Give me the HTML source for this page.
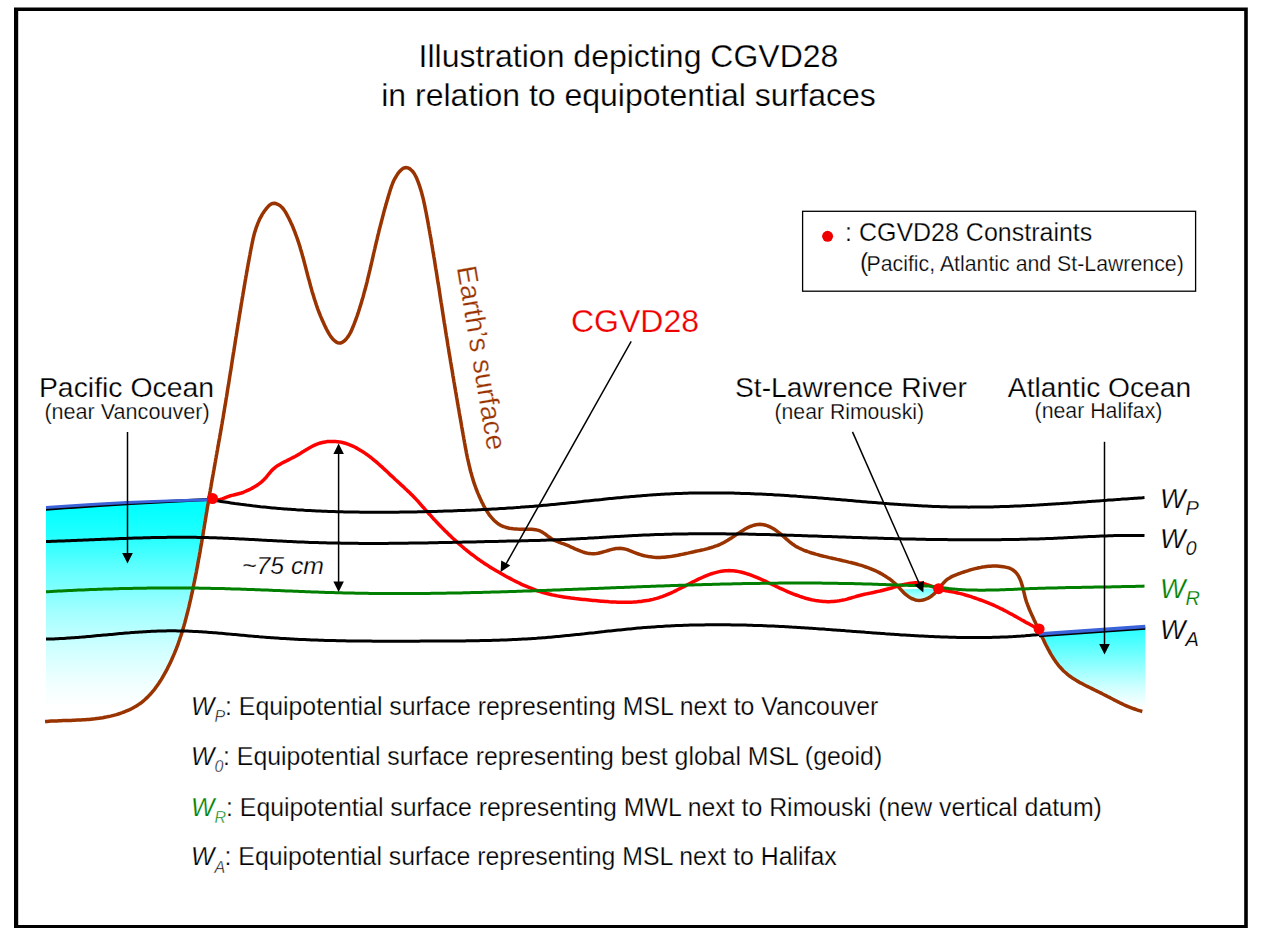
<!DOCTYPE html>
<html><head><meta charset="utf-8"><style>
html,body{margin:0;padding:0;background:#fff;width:1264px;height:940px;overflow:hidden}
svg{display:block} text{stroke:#fff;stroke-width:0.25px}
</style></head><body>
<svg width="1264" height="940" viewBox="0 0 1264 940">
<defs><linearGradient id="gw" gradientUnits="userSpaceOnUse" x1="0" y1="506" x2="0" y2="706"><stop offset="0" stop-color="#00ffff"/><stop offset="0.15" stop-color="#22ffff"/><stop offset="0.3" stop-color="#5cffff"/><stop offset="0.52" stop-color="#a0ffff"/><stop offset="0.695" stop-color="#ccffff"/><stop offset="0.87" stop-color="#eeffff"/><stop offset="1" stop-color="#ffffff"/></linearGradient><linearGradient id="gw2" gradientUnits="userSpaceOnUse" x1="0" y1="626" x2="0" y2="708"><stop offset="0" stop-color="#20ffff"/><stop offset="0.45" stop-color="#88ffff"/><stop offset="0.75" stop-color="#d0ffff"/><stop offset="1" stop-color="#ffffff"/></linearGradient></defs>
<path d="M14,7.4 H1247.8 V928 H14 Z M18.2,11 V925 H1244.2 V11 Z" fill="#000" fill-rule="evenodd"/>
<text x="628.5" y="66.7" text-anchor="middle" style="font-family:'Liberation Sans',sans-serif;font-size:32px">Illustration depicting CGVD28</text>
<text x="628.5" y="105.7" text-anchor="middle" style="font-family:'Liberation Sans',sans-serif;font-size:32px">in relation to equipotential surfaces</text>
<path d="M46,507.6 Q127,501.5 212,499.5 L208.5,500.9 L208.2,502.9 L207.9,504.9 L207.5,506.8 L207.2,508.8 L206.9,510.8 L206.6,512.7 L206.2,514.7 L205.9,516.7 L205.6,518.7 L205.3,520.6 L204.9,522.6 L204.6,524.6 L204.3,526.5 L204.0,528.5 L203.6,530.5 L203.3,532.5 L203.0,534.4 L202.7,536.4 L202.3,538.4 L202.0,540.3 L201.7,542.3 L201.3,544.3 L201.0,546.2 L200.6,548.2 L200.3,550.2 L200.0,552.1 L199.6,554.1 L199.3,556.1 L198.9,558.0 L198.5,560.0 L198.2,561.9 L197.8,563.9 L197.5,565.9 L197.1,567.8 L196.7,569.8 L196.4,571.8 L196.0,573.7 L195.6,575.7 L195.2,577.6 L194.8,579.6 L194.4,581.6 L194.0,583.5 L193.6,585.5 L193.2,587.4 L192.8,589.4 L192.4,591.3 L192.0,593.3 L191.5,595.2 L191.1,597.2 L190.7,599.1 L190.2,601.1 L189.8,603.0 L189.3,605.0 L188.9,606.9 L188.4,608.9 L187.9,610.8 L187.4,612.8 L186.9,614.7 L186.4,616.6 L185.9,618.6 L185.4,620.5 L184.9,622.4 L184.3,624.4 L183.8,626.3 L183.2,628.2 L182.7,630.1 L182.1,632.0 L181.5,633.9 L180.9,635.8 L180.2,637.7 L179.6,639.6 L178.9,641.5 L178.3,643.4 L177.6,645.3 L176.9,647.2 L176.2,649.0 L175.4,650.9 L174.7,652.7 L173.9,654.6 L173.1,656.4 L172.3,658.2 L171.5,660.1 L170.7,661.9 L169.8,663.7 L168.9,665.5 L168.0,667.3 L167.1,669.1 L166.2,670.8 L165.2,672.6 L164.2,674.4 L163.2,676.1 L162.2,677.9 L161.2,679.6 L160.1,681.3 L159.0,683.0 L157.8,684.7 L156.7,686.3 L155.5,687.9 L154.3,689.6 L153.0,691.1 L151.7,692.7 L150.4,694.2 L149.0,695.6 L147.6,697.1 L146.2,698.4 L144.7,699.8 L143.2,701.1 L141.7,702.3 L140.1,703.5 L138.4,704.6 L136.8,705.7 L135.0,706.8 L133.3,707.7 L131.5,708.7 L129.7,709.6 L127.9,710.4 L126.0,711.2 L124.1,712.0 L122.2,712.7 L120.3,713.3 L118.4,714.0 L116.5,714.6 L114.5,715.1 L112.6,715.6 L110.6,716.1 L108.7,716.5 L106.7,716.9 L104.8,717.3 L102.8,717.7 L100.8,718.0 L98.9,718.3 L96.9,718.5 L94.9,718.8 L92.9,719.0 L90.9,719.2 L88.9,719.4 L86.9,719.5 L84.9,719.7 L82.9,719.8 L80.9,719.9 L78.9,720.0 L76.9,720.1 L74.9,720.2 L72.9,720.3 L70.9,720.4 L68.9,720.5 L66.9,720.5 L64.9,720.6 L62.9,720.6 L60.9,720.7 L58.9,720.8 L56.9,720.9 L54.9,720.9 L52.9,721.0 L51.0,721.1 L49.0,721.2 L47.0,721.4 L45.0,721.5 L46,721.5 Z" fill="url(#gw)"/>
<path d="M1039.5,634.3 L1145.3,626.7 L1145.3,712 L1142.3,711.5 L1140.3,710.9 L1138.3,710.3 L1136.4,709.7 L1134.5,709.0 L1132.6,708.3 L1130.7,707.6 L1128.9,706.9 L1127.0,706.1 L1125.2,705.3 L1123.4,704.5 L1121.7,703.6 L1119.9,702.8 L1118.1,701.9 L1116.4,701.0 L1114.6,700.1 L1112.9,699.2 L1111.1,698.3 L1109.4,697.4 L1107.6,696.5 L1105.9,695.6 L1104.1,694.7 L1102.3,693.8 L1100.6,692.9 L1098.7,692.0 L1096.9,691.1 L1095.1,690.2 L1093.3,689.3 L1091.4,688.4 L1089.6,687.5 L1087.8,686.6 L1085.9,685.7 L1084.1,684.8 L1082.3,683.8 L1080.5,682.9 L1078.8,681.9 L1077.0,680.9 L1075.3,679.8 L1073.6,678.8 L1071.9,677.7 L1070.3,676.5 L1068.7,675.3 L1067.2,674.1 L1065.7,672.8 L1064.2,671.5 L1062.8,670.2 L1061.5,668.7 L1060.2,667.3 L1058.9,665.8 L1057.7,664.3 L1056.5,662.7 L1055.3,661.1 L1054.2,659.4 L1053.1,657.8 L1052.1,656.1 L1051.0,654.4 L1050.0,652.6 L1049.1,650.9 L1048.1,649.1 L1047.2,647.3 L1046.2,645.5 L1045.3,643.7 L1044.4,641.9 L1043.6,640.0 L1042.7,638.2 L1041.8,636.4 L1041.0,634.5 L1040.1,632.7 Z" fill="url(#gw2)"/>
<defs><linearGradient id="gp" gradientUnits="userSpaceOnUse" x1="0" y1="584" x2="0" y2="600"><stop offset="0" stop-color="#40ffff"/><stop offset="1" stop-color="#d0ffff"/></linearGradient></defs>
<path d="M900.8,589.6 L902.2,591.0 L903.6,592.5 L905.0,593.9 L906.6,595.2 L908.2,596.4 L909.9,597.5 L911.6,598.5 L913.4,599.2 L915.3,599.9 L917.2,600.2 L919.1,600.4 L921.1,600.3 L923.1,600.0 L925.0,599.4 L926.9,598.7 L928.8,597.8 L930.5,596.7 L932.2,595.5 L933.8,594.2 L935.3,592.8 L936.7,591.3 L937.9,589.8 L939.2,588.2 Z" fill="url(#gp)"/>
<path d="M45.0,721.5 L47.0,721.4 L49.0,721.2 L51.0,721.1 L52.9,721.0 L54.9,720.9 L56.9,720.9 L58.9,720.8 L60.9,720.7 L62.9,720.6 L64.9,720.6 L66.9,720.5 L68.9,720.5 L70.9,720.4 L72.9,720.3 L74.9,720.2 L76.9,720.1 L78.9,720.0 L80.9,719.9 L82.9,719.8 L84.9,719.7 L86.9,719.5 L88.9,719.4 L90.9,719.2 L92.9,719.0 L94.9,718.8 L96.9,718.5 L98.9,718.3 L100.8,718.0 L102.8,717.7 L104.8,717.3 L106.7,716.9 L108.7,716.5 L110.6,716.1 L112.6,715.6 L114.5,715.1 L116.5,714.6 L118.4,714.0 L120.3,713.3 L122.2,712.7 L124.1,712.0 L126.0,711.2 L127.9,710.4 L129.7,709.6 L131.5,708.7 L133.3,707.7 L135.0,706.8 L136.8,705.7 L138.4,704.6 L140.1,703.5 L141.7,702.3 L143.2,701.1 L144.7,699.8 L146.2,698.4 L147.6,697.1 L149.0,695.6 L150.4,694.2 L151.7,692.7 L153.0,691.1 L154.3,689.6 L155.5,687.9 L156.7,686.3 L157.8,684.7 L159.0,683.0 L160.1,681.3 L161.2,679.6 L162.2,677.9 L163.2,676.1 L164.2,674.4 L165.2,672.6 L166.2,670.8 L167.1,669.1 L168.0,667.3 L168.9,665.5 L169.8,663.7 L170.7,661.9 L171.5,660.1 L172.3,658.2 L173.1,656.4 L173.9,654.6 L174.7,652.7 L175.4,650.9 L176.2,649.0 L176.9,647.2 L177.6,645.3 L178.3,643.4 L178.9,641.5 L179.6,639.6 L180.2,637.7 L180.9,635.8 L181.5,633.9 L182.1,632.0 L182.7,630.1 L183.2,628.2 L183.8,626.3 L184.3,624.4 L184.9,622.4 L185.4,620.5 L185.9,618.6 L186.4,616.6 L186.9,614.7 L187.4,612.8 L187.9,610.8 L188.4,608.9 L188.9,606.9 L189.3,605.0 L189.8,603.0 L190.2,601.1 L190.7,599.1 L191.1,597.2 L191.5,595.2 L192.0,593.3 L192.4,591.3 L192.8,589.4 L193.2,587.4 L193.6,585.5 L194.0,583.5 L194.4,581.6 L194.8,579.6 L195.2,577.6 L195.6,575.7 L196.0,573.7 L196.4,571.8 L196.7,569.8 L197.1,567.8 L197.5,565.9 L197.8,563.9 L198.2,561.9 L198.5,560.0 L198.9,558.0 L199.3,556.1 L199.6,554.1 L200.0,552.1 L200.3,550.2 L200.6,548.2 L201.0,546.2 L201.3,544.3 L201.7,542.3 L202.0,540.3 L202.3,538.4 L202.7,536.4 L203.0,534.4 L203.3,532.5 L203.6,530.5 L204.0,528.5 L204.3,526.5 L204.6,524.6 L204.9,522.6 L205.3,520.6 L205.6,518.7 L205.9,516.7 L206.2,514.7 L206.6,512.7 L206.9,510.8 L207.2,508.8 L207.5,506.8 L207.9,504.9 L208.2,502.9 L208.5,500.9 L208.9,498.9 L209.2,497.0 L209.5,495.0 L209.8,493.0 L210.2,491.0 L210.5,489.1 L210.9,487.1 L211.2,485.1 L211.5,483.2 L211.9,481.2 L212.2,479.2 L212.6,477.2 L212.9,475.3 L213.3,473.3 L213.6,471.3 L214.0,469.3 L214.3,467.4 L214.7,465.4 L215.0,463.4 L215.4,461.5 L215.7,459.5 L216.1,457.5 L216.4,455.5 L216.8,453.6 L217.1,451.6 L217.5,449.6 L217.8,447.7 L218.2,445.7 L218.5,443.7 L218.9,441.7 L219.2,439.8 L219.6,437.8 L219.9,435.8 L220.3,433.9 L220.6,431.9 L221.0,429.9 L221.3,428.0 L221.6,426.0 L222.0,424.0 L222.3,422.1 L222.6,420.1 L223.0,418.1 L223.3,416.2 L223.6,414.2 L224.0,412.2 L224.3,410.3 L224.6,408.3 L224.9,406.3 L225.3,404.4 L225.6,402.4 L225.9,400.4 L226.2,398.5 L226.6,396.5 L226.9,394.5 L227.2,392.6 L227.5,390.6 L227.8,388.6 L228.1,386.7 L228.5,384.7 L228.8,382.7 L229.1,380.8 L229.4,378.8 L229.7,376.8 L230.0,374.9 L230.3,372.9 L230.7,370.9 L231.0,369.0 L231.3,367.0 L231.6,365.0 L231.9,363.1 L232.2,361.1 L232.5,359.1 L232.8,357.2 L233.1,355.2 L233.4,353.2 L233.8,351.3 L234.1,349.3 L234.4,347.3 L234.7,345.4 L235.0,343.4 L235.3,341.4 L235.6,339.5 L235.9,337.5 L236.3,335.5 L236.6,333.6 L236.9,331.6 L237.2,329.6 L237.5,327.7 L237.8,325.7 L238.1,323.7 L238.5,321.8 L238.8,319.8 L239.1,317.8 L239.4,315.8 L239.7,313.9 L240.1,311.9 L240.4,309.9 L240.7,308.0 L241.0,306.0 L241.3,304.0 L241.7,302.0 L242.0,300.1 L242.3,298.1 L242.7,296.1 L243.0,294.1 L243.3,292.2 L243.7,290.2 L244.0,288.2 L244.3,286.2 L244.7,284.2 L245.0,282.3 L245.3,280.3 L245.7,278.3 L246.0,276.3 L246.4,274.3 L246.7,272.4 L247.1,270.4 L247.4,268.4 L247.8,266.4 L248.1,264.4 L248.5,262.4 L248.9,260.4 L249.2,258.5 L249.6,256.5 L250.0,254.5 L250.3,252.5 L250.7,250.5 L251.1,248.5 L251.5,246.5 L251.9,244.5 L252.3,242.6 L252.7,240.6 L253.1,238.6 L253.6,236.7 L254.1,234.7 L254.6,232.8 L255.2,230.9 L255.8,229.0 L256.4,227.1 L257.1,225.3 L257.8,223.4 L258.6,221.6 L259.4,219.8 L260.2,218.1 L261.2,216.3 L262.1,214.6 L263.2,212.9 L264.3,211.3 L265.5,209.7 L266.7,208.1 L268.1,206.6 L269.5,205.2 L271.0,204.1 L272.7,203.4 L274.5,203.3 L276.5,203.8 L278.4,204.6 L280.2,205.8 L281.8,207.2 L283.2,208.7 L284.4,210.4 L285.5,212.1 L286.5,213.9 L287.4,215.7 L288.4,217.5 L289.3,219.3 L290.2,221.1 L291.0,222.9 L291.9,224.8 L292.7,226.6 L293.4,228.5 L294.2,230.3 L294.9,232.2 L295.6,234.1 L296.3,236.0 L297.0,237.8 L297.6,239.7 L298.3,241.6 L298.9,243.5 L299.5,245.4 L300.1,247.3 L300.6,249.2 L301.2,251.1 L301.8,253.1 L302.3,255.0 L302.8,256.9 L303.4,258.8 L303.9,260.7 L304.4,262.7 L304.9,264.6 L305.4,266.5 L305.9,268.4 L306.4,270.4 L306.9,272.3 L307.4,274.2 L307.9,276.1 L308.4,278.1 L309.0,280.0 L309.5,281.9 L310.0,283.8 L310.5,285.7 L311.1,287.7 L311.6,289.6 L312.1,291.5 L312.7,293.4 L313.3,295.3 L313.9,297.2 L314.4,299.1 L315.1,301.0 L315.7,302.9 L316.3,304.8 L317.0,306.7 L317.6,308.6 L318.3,310.4 L319.0,312.3 L319.8,314.2 L320.5,316.1 L321.3,317.9 L322.1,319.8 L322.9,321.6 L323.8,323.5 L324.6,325.3 L325.5,327.1 L326.4,329.0 L327.4,330.8 L328.4,332.6 L329.4,334.4 L330.5,336.1 L331.7,337.7 L333.0,339.3 L334.5,340.7 L336.0,341.9 L337.6,342.8 L339.3,343.1 L341.0,342.9 L342.6,342.2 L344.2,341.0 L345.7,339.6 L347.0,338.0 L348.2,336.4 L349.3,334.6 L350.3,332.9 L351.2,331.1 L352.0,329.2 L352.8,327.3 L353.6,325.4 L354.3,323.6 L355.0,321.7 L355.7,319.8 L356.4,317.9 L357.1,316.0 L357.7,314.1 L358.4,312.1 L359.0,310.2 L359.6,308.3 L360.2,306.4 L360.8,304.5 L361.4,302.6 L361.9,300.6 L362.5,298.7 L363.1,296.8 L363.6,294.9 L364.1,292.9 L364.6,291.0 L365.2,289.1 L365.7,287.1 L366.2,285.2 L366.7,283.3 L367.2,281.3 L367.6,279.4 L368.1,277.4 L368.6,275.5 L369.0,273.6 L369.5,271.6 L370.0,269.7 L370.4,267.7 L370.9,265.8 L371.3,263.9 L371.8,261.9 L372.2,260.0 L372.7,258.0 L373.1,256.1 L373.5,254.2 L374.0,252.2 L374.4,250.3 L374.9,248.3 L375.3,246.4 L375.8,244.5 L376.2,242.5 L376.7,240.6 L377.2,238.7 L377.6,236.7 L378.1,234.8 L378.6,232.9 L379.0,230.9 L379.5,229.0 L380.0,227.1 L380.5,225.1 L381.0,223.2 L381.5,221.3 L382.0,219.4 L382.5,217.4 L383.0,215.5 L383.5,213.6 L384.0,211.6 L384.5,209.7 L385.1,207.8 L385.6,205.8 L386.2,203.9 L386.7,202.0 L387.3,200.0 L387.9,198.1 L388.4,196.1 L389.0,194.2 L389.6,192.2 L390.2,190.3 L390.8,188.4 L391.5,186.4 L392.2,184.5 L392.9,182.7 L393.7,180.8 L394.6,179.0 L395.6,177.3 L396.6,175.6 L397.7,173.9 L398.9,172.3 L400.3,170.8 L401.7,169.4 L403.3,168.3 L404.9,167.7 L406.6,167.6 L408.3,168.0 L409.9,168.9 L411.4,170.2 L412.8,171.6 L414.0,173.2 L415.0,175.0 L416.0,176.8 L416.9,178.8 L417.7,180.8 L418.4,182.7 L419.1,184.7 L419.8,186.7 L420.4,188.6 L421.0,190.6 L421.6,192.6 L422.1,194.5 L422.6,196.5 L423.1,198.4 L423.6,200.4 L424.0,202.3 L424.4,204.2 L424.8,206.2 L425.2,208.1 L425.6,210.1 L426.0,212.0 L426.4,214.0 L426.7,215.9 L427.1,217.8 L427.5,219.8 L427.8,221.7 L428.2,223.7 L428.5,225.6 L428.9,227.6 L429.2,229.5 L429.6,231.5 L429.9,233.5 L430.3,235.4 L430.6,237.4 L431.0,239.3 L431.3,241.3 L431.6,243.3 L432.0,245.2 L432.3,247.2 L432.6,249.1 L432.9,251.1 L433.3,253.1 L433.6,255.0 L433.9,257.0 L434.3,259.0 L434.6,261.0 L434.9,262.9 L435.2,264.9 L435.5,266.9 L435.8,268.8 L436.2,270.8 L436.5,272.8 L436.8,274.8 L437.1,276.7 L437.4,278.7 L437.7,280.7 L438.0,282.7 L438.4,284.7 L438.7,286.6 L439.0,288.6 L439.3,290.6 L439.6,292.6 L439.9,294.6 L440.2,296.5 L440.5,298.5 L440.8,300.5 L441.1,302.5 L441.5,304.5 L441.8,306.4 L442.1,308.4 L442.4,310.4 L442.7,312.4 L443.0,314.4 L443.3,316.3 L443.6,318.3 L443.9,320.3 L444.2,322.3 L444.6,324.3 L444.9,326.2 L445.2,328.2 L445.5,330.2 L445.8,332.2 L446.1,334.1 L446.4,336.1 L446.8,338.1 L447.1,340.1 L447.4,342.0 L447.7,344.0 L448.0,346.0 L448.4,348.0 L448.7,349.9 L449.0,351.9 L449.3,353.9 L449.7,355.9 L450.0,357.8 L450.3,359.8 L450.6,361.8 L451.0,363.8 L451.3,365.7 L451.6,367.7 L452.0,369.7 L452.3,371.6 L452.6,373.6 L452.9,375.6 L453.3,377.6 L453.6,379.5 L453.9,381.5 L454.3,383.5 L454.6,385.4 L454.9,387.4 L455.3,389.4 L455.6,391.3 L456.0,393.3 L456.3,395.3 L456.6,397.3 L457.0,399.2 L457.3,401.2 L457.6,403.2 L458.0,405.1 L458.3,407.1 L458.7,409.1 L459.0,411.0 L459.3,413.0 L459.7,415.0 L460.0,416.9 L460.4,418.9 L460.7,420.9 L461.1,422.8 L461.4,424.8 L461.7,426.8 L462.1,428.7 L462.4,430.7 L462.8,432.7 L463.1,434.6 L463.5,436.6 L463.8,438.5 L464.2,440.5 L464.5,442.5 L464.9,444.4 L465.2,446.4 L465.6,448.4 L466.0,450.3 L466.3,452.3 L466.7,454.2 L467.1,456.2 L467.5,458.1 L468.0,460.1 L468.4,462.0 L468.8,464.0 L469.3,465.9 L469.8,467.8 L470.2,469.8 L470.7,471.7 L471.3,473.6 L471.8,475.5 L472.4,477.5 L472.9,479.4 L473.5,481.3 L474.1,483.2 L474.8,485.1 L475.5,487.0 L476.1,488.8 L476.9,490.7 L477.6,492.6 L478.4,494.4 L479.2,496.3 L480.0,498.1 L480.9,500.0 L481.7,501.8 L482.7,503.6 L483.6,505.5 L484.6,507.3 L485.6,509.1 L486.7,510.8 L487.8,512.6 L488.9,514.2 L490.1,515.9 L491.4,517.4 L492.7,518.9 L494.0,520.3 L495.5,521.7 L497.0,522.9 L498.5,524.0 L500.1,525.0 L501.8,525.9 L503.6,526.6 L505.5,527.2 L507.4,527.7 L509.3,528.2 L511.3,528.5 L513.3,528.8 L515.4,528.9 L517.4,529.1 L519.5,529.2 L521.6,529.2 L523.7,529.2 L525.7,529.2 L527.8,529.2 L529.8,529.3 L531.8,529.3 L533.7,529.5 L535.6,529.7 L537.5,530.1 L539.3,530.7 L541.1,531.5 L542.8,532.5 L544.5,533.6 L546.2,534.8 L547.8,536.1 L549.5,537.3 L551.2,538.5 L552.9,539.5 L554.7,540.4 L556.4,541.2 L558.2,541.9 L560.1,542.6 L561.9,543.3 L563.8,543.9 L565.6,544.6 L567.5,545.4 L569.4,546.2 L571.2,547.1 L573.1,547.9 L575.0,548.8 L576.9,549.6 L578.8,550.4 L580.7,551.2 L582.6,551.9 L584.5,552.5 L586.4,553.0 L588.3,553.4 L590.3,553.6 L592.2,553.7 L594.2,553.7 L596.2,553.5 L598.2,553.2 L600.1,552.7 L602.1,552.2 L604.1,551.6 L606.1,551.1 L608.1,550.5 L610.1,549.9 L612.0,549.4 L614.0,548.9 L615.9,548.6 L617.9,548.4 L619.8,548.3 L621.7,548.4 L623.6,548.7 L625.4,549.1 L627.3,549.7 L629.1,550.4 L631.0,551.1 L632.8,551.9 L634.7,552.6 L636.6,553.3 L638.5,554.0 L640.4,554.6 L642.4,555.2 L644.3,555.7 L646.3,556.1 L648.3,556.5 L650.3,556.8 L652.2,557.1 L654.2,557.3 L656.2,557.4 L658.2,557.4 L660.2,557.4 L662.2,557.3 L664.1,557.2 L666.1,557.0 L668.1,556.8 L670.1,556.6 L672.0,556.3 L674.0,555.9 L676.0,555.6 L678.0,555.2 L680.0,554.8 L681.9,554.4 L683.9,554.0 L685.9,553.5 L687.9,553.1 L689.9,552.6 L691.9,552.2 L693.9,551.8 L695.9,551.3 L697.9,550.9 L699.8,550.5 L701.8,550.0 L703.8,549.6 L705.8,549.1 L707.7,548.6 L709.6,548.0 L711.5,547.5 L713.4,546.9 L715.3,546.2 L717.2,545.6 L719.0,544.8 L720.8,544.0 L722.5,543.2 L724.3,542.3 L726.0,541.3 L727.7,540.3 L729.3,539.3 L731.0,538.2 L732.7,537.1 L734.3,536.0 L736.0,534.8 L737.7,533.7 L739.4,532.6 L741.1,531.5 L742.9,530.4 L744.7,529.3 L746.5,528.3 L748.3,527.4 L750.2,526.5 L752.1,525.8 L754.0,525.2 L756.0,524.7 L757.9,524.4 L759.8,524.3 L761.8,524.4 L763.7,524.7 L765.6,525.2 L767.5,525.8 L769.4,526.6 L771.2,527.5 L773.0,528.5 L774.8,529.6 L776.5,530.8 L778.2,532.1 L779.8,533.3 L781.4,534.6 L782.9,536.0 L784.4,537.3 L785.9,538.6 L787.4,539.9 L788.9,541.2 L790.4,542.5 L792.0,543.7 L793.6,544.8 L795.2,545.9 L796.9,546.9 L798.6,547.8 L800.4,548.7 L802.3,549.5 L804.1,550.3 L806.0,551.0 L807.9,551.7 L809.8,552.3 L811.7,553.0 L813.7,553.5 L815.6,554.1 L817.6,554.6 L819.6,555.2 L821.5,555.7 L823.5,556.2 L825.4,556.6 L827.4,557.1 L829.3,557.6 L831.3,558.0 L833.2,558.5 L835.2,558.9 L837.1,559.4 L839.1,559.8 L841.0,560.2 L843.0,560.7 L844.9,561.1 L846.8,561.6 L848.8,562.1 L850.7,562.5 L852.6,563.0 L854.6,563.5 L856.5,564.0 L858.4,564.6 L860.3,565.1 L862.2,565.7 L864.1,566.3 L865.9,567.0 L867.8,567.6 L869.7,568.3 L871.5,569.1 L873.4,569.9 L875.2,570.7 L877.0,571.5 L878.8,572.4 L880.6,573.4 L882.3,574.3 L884.1,575.4 L885.8,576.5 L887.5,577.6 L889.2,578.7 L890.8,579.9 L892.4,581.2 L893.9,582.5 L895.4,583.8 L896.8,585.2 L898.2,586.6 L899.5,588.1 L900.8,589.6 L902.2,591.0 L903.6,592.5 L905.0,593.9 L906.6,595.2 L908.2,596.4 L909.9,597.5 L911.6,598.5 L913.4,599.2 L915.3,599.9 L917.2,600.2 L919.1,600.4 L921.1,600.3 L923.1,600.0 L925.0,599.4 L926.9,598.7 L928.8,597.8 L930.5,596.7 L932.2,595.5 L933.8,594.2 L935.3,592.8 L936.7,591.3 L937.9,589.8 L939.2,588.2 L940.4,586.7 L941.6,585.1 L942.9,583.6 L944.2,582.2 L945.6,580.8 L947.0,579.5 L948.7,578.4 L950.4,577.4 L952.2,576.4 L954.1,575.6 L956.0,574.8 L958.0,574.0 L959.9,573.3 L961.9,572.6 L963.8,572.0 L965.7,571.4 L967.6,570.8 L969.5,570.2 L971.3,569.6 L973.2,569.1 L975.1,568.6 L976.9,568.2 L978.8,567.7 L980.7,567.4 L982.6,567.0 L984.6,566.8 L986.5,566.5 L988.5,566.3 L990.5,566.2 L992.6,566.1 L994.7,566.1 L996.8,566.1 L999.0,566.2 L1001.2,566.4 L1003.4,566.7 L1005.5,567.1 L1007.6,567.6 L1009.5,568.2 L1011.3,569.0 L1013.0,570.0 L1014.4,571.1 L1015.7,572.3 L1016.9,573.7 L1018.0,575.2 L1018.9,576.9 L1019.8,578.6 L1020.5,580.4 L1021.2,582.2 L1021.8,584.2 L1022.4,586.1 L1022.9,588.1 L1023.4,590.2 L1023.9,592.2 L1024.4,594.2 L1024.9,596.3 L1025.4,598.3 L1026.0,600.2 L1026.6,602.1 L1027.3,604.0 L1028.0,605.9 L1028.7,607.7 L1029.4,609.5 L1030.2,611.3 L1031.0,613.1 L1031.8,614.9 L1032.6,616.6 L1033.4,618.4 L1034.2,620.1 L1035.1,621.9 L1035.9,623.7 L1036.7,625.5 L1037.6,627.3 L1038.4,629.1 L1039.3,630.9 L1040.1,632.7 L1041.0,634.5 L1041.8,636.4 L1042.7,638.2 L1043.6,640.0 L1044.4,641.9 L1045.3,643.7 L1046.2,645.5 L1047.2,647.3 L1048.1,649.1 L1049.1,650.9 L1050.0,652.6 L1051.0,654.4 L1052.1,656.1 L1053.1,657.8 L1054.2,659.4 L1055.3,661.1 L1056.5,662.7 L1057.7,664.3 L1058.9,665.8 L1060.2,667.3 L1061.5,668.7 L1062.8,670.2 L1064.2,671.5 L1065.7,672.8 L1067.2,674.1 L1068.7,675.3 L1070.3,676.5 L1071.9,677.7 L1073.6,678.8 L1075.3,679.8 L1077.0,680.9 L1078.8,681.9 L1080.5,682.9 L1082.3,683.8 L1084.1,684.8 L1085.9,685.7 L1087.8,686.6 L1089.6,687.5 L1091.4,688.4 L1093.3,689.3 L1095.1,690.2 L1096.9,691.1 L1098.7,692.0 L1100.6,692.9 L1102.3,693.8 L1104.1,694.7 L1105.9,695.6 L1107.6,696.5 L1109.4,697.4 L1111.1,698.3 L1112.9,699.2 L1114.6,700.1 L1116.4,701.0 L1118.1,701.9 L1119.9,702.8 L1121.7,703.6 L1123.4,704.5 L1125.2,705.3 L1127.0,706.1 L1128.9,706.9 L1130.7,707.6 L1132.6,708.3 L1134.5,709.0 L1136.4,709.7 L1138.3,710.3 L1140.3,710.9 L1142.3,711.5" fill="none" stroke="#993300" stroke-width="3.5" stroke-linejoin="round"/>
<path d="M212.7,498.5 L214.7,499.4 L216.6,499.8 L218.5,499.7 L220.3,499.4 L222.2,498.8 L224.1,498.1 L226.0,497.3 L227.9,496.6 L229.8,496.0 L231.7,495.4 L233.7,495.0 L235.6,494.5 L237.5,494.0 L239.5,493.5 L241.4,493.0 L243.2,492.3 L245.1,491.5 L247.0,490.7 L248.8,489.9 L250.6,489.0 L252.3,488.1 L254.1,487.1 L255.8,486.1 L257.4,485.0 L259.0,483.9 L260.6,482.7 L262.1,481.4 L263.6,480.0 L265.0,478.6 L266.3,477.1 L267.6,475.5 L268.9,473.9 L270.2,472.3 L271.5,470.8 L272.9,469.4 L274.4,468.1 L275.9,466.9 L277.5,465.7 L279.2,464.7 L280.9,463.7 L282.6,462.8 L284.4,461.9 L286.2,461.0 L287.9,460.1 L289.7,459.2 L291.5,458.3 L293.3,457.4 L295.1,456.5 L296.8,455.5 L298.6,454.4 L300.3,453.4 L302.0,452.3 L303.7,451.3 L305.4,450.2 L307.1,449.2 L308.8,448.2 L310.6,447.2 L312.3,446.3 L314.1,445.4 L315.9,444.6 L317.7,443.9 L319.6,443.2 L321.5,442.7 L323.4,442.2 L325.4,441.9 L327.4,441.6 L329.4,441.4 L331.4,441.4 L333.4,441.4 L335.4,441.5 L337.5,441.7 L339.5,441.9 L341.4,442.3 L343.4,442.8 L345.3,443.3 L347.2,443.9 L349.1,444.6 L350.9,445.3 L352.8,446.1 L354.6,447.0 L356.3,447.9 L358.1,448.9 L359.8,449.9 L361.5,450.9 L363.2,452.0 L364.9,453.1 L366.5,454.3 L368.1,455.4 L369.7,456.6 L371.3,457.8 L372.8,459.1 L374.3,460.3 L375.9,461.6 L377.4,462.9 L378.9,464.2 L380.4,465.6 L381.9,466.9 L383.3,468.2 L384.8,469.6 L386.3,471.0 L387.7,472.3 L389.2,473.7 L390.6,475.1 L392.1,476.4 L393.6,477.8 L395.0,479.2 L396.5,480.5 L398.0,481.9 L399.5,483.2 L400.9,484.6 L402.4,485.9 L403.9,487.3 L405.3,488.7 L406.8,490.0 L408.2,491.4 L409.7,492.8 L411.1,494.2 L412.5,495.6 L413.9,497.0 L415.3,498.4 L416.6,499.9 L418.0,501.3 L419.3,502.8 L420.6,504.3 L421.9,505.8 L423.2,507.3 L424.6,508.8 L425.9,510.3 L427.2,511.8 L428.5,513.2 L429.9,514.7 L431.2,516.2 L432.5,517.7 L433.9,519.2 L435.3,520.6 L436.6,522.1 L438.0,523.5 L439.4,525.0 L440.8,526.4 L442.2,527.9 L443.6,529.3 L445.0,530.7 L446.5,532.1 L447.9,533.5 L449.3,534.9 L450.8,536.3 L452.2,537.7 L453.7,539.0 L455.2,540.4 L456.7,541.7 L458.2,543.1 L459.7,544.4 L461.2,545.7 L462.7,547.0 L464.2,548.3 L465.8,549.6 L467.3,550.8 L468.9,552.1 L470.4,553.3 L472.0,554.5 L473.6,555.7 L475.2,556.9 L476.8,558.1 L478.4,559.3 L480.0,560.4 L481.6,561.5 L483.3,562.6 L484.9,563.7 L486.6,564.8 L488.3,565.9 L489.9,566.9 L491.6,568.0 L493.3,569.0 L495.0,570.0 L496.7,571.0 L498.5,572.0 L500.2,573.0 L501.9,574.0 L503.7,575.0 L505.4,576.0 L507.2,577.0 L509.0,577.9 L510.8,578.9 L512.5,579.8 L514.3,580.7 L516.1,581.6 L518.0,582.5 L519.8,583.4 L521.6,584.3 L523.4,585.1 L525.3,585.9 L527.1,586.7 L529.0,587.5 L530.8,588.2 L532.7,588.9 L534.6,589.6 L536.4,590.3 L538.3,591.0 L540.2,591.6 L542.1,592.2 L544.0,592.7 L545.9,593.2 L547.8,593.7 L549.7,594.2 L551.7,594.7 L553.6,595.1 L555.5,595.5 L557.4,595.9 L559.4,596.2 L561.3,596.6 L563.3,596.9 L565.2,597.2 L567.2,597.5 L569.2,597.8 L571.1,598.1 L573.1,598.3 L575.1,598.6 L577.1,598.8 L579.0,599.0 L581.0,599.2 L583.0,599.4 L585.0,599.6 L587.0,599.8 L589.0,600.0 L591.0,600.2 L593.0,600.4 L595.1,600.6 L597.1,600.8 L599.1,601.0 L601.1,601.2 L603.1,601.3 L605.1,601.5 L607.2,601.6 L609.2,601.8 L611.2,601.9 L613.2,602.0 L615.3,602.1 L617.3,602.2 L619.3,602.2 L621.3,602.3 L623.3,602.3 L625.3,602.3 L627.3,602.3 L629.3,602.2 L631.3,602.2 L633.3,602.1 L635.3,601.9 L637.3,601.8 L639.2,601.6 L641.2,601.4 L643.1,601.1 L645.1,600.8 L647.0,600.5 L649.0,600.2 L650.9,599.8 L652.8,599.4 L654.7,598.9 L656.6,598.4 L658.5,597.8 L660.3,597.2 L662.2,596.6 L664.0,595.9 L665.9,595.2 L667.7,594.4 L669.5,593.6 L671.3,592.8 L673.1,592.0 L674.9,591.1 L676.7,590.2 L678.5,589.3 L680.3,588.4 L682.1,587.5 L683.9,586.6 L685.7,585.6 L687.5,584.7 L689.3,583.8 L691.2,582.8 L693.0,581.9 L694.8,581.0 L696.6,580.1 L698.5,579.2 L700.3,578.3 L702.2,577.5 L704.1,576.7 L705.9,575.9 L707.8,575.1 L709.7,574.4 L711.6,573.7 L713.6,573.1 L715.5,572.6 L717.4,572.1 L719.3,571.6 L721.3,571.3 L723.2,571.0 L725.1,570.8 L727.1,570.7 L729.0,570.6 L731.0,570.7 L732.9,570.8 L734.9,571.0 L736.8,571.3 L738.7,571.6 L740.7,572.0 L742.6,572.5 L744.5,573.0 L746.4,573.6 L748.4,574.2 L750.3,574.9 L752.2,575.6 L754.1,576.3 L756.0,577.1 L757.9,577.9 L759.7,578.7 L761.6,579.5 L763.5,580.4 L765.3,581.2 L767.1,582.1 L769.0,583.0 L770.8,583.8 L772.6,584.7 L774.4,585.5 L776.2,586.4 L777.9,587.2 L779.7,588.1 L781.5,588.9 L783.3,589.7 L785.1,590.5 L786.9,591.3 L788.7,592.1 L790.5,592.8 L792.4,593.6 L794.2,594.3 L796.1,595.0 L798.0,595.7 L799.9,596.4 L801.8,597.0 L803.7,597.6 L805.6,598.2 L807.6,598.7 L809.5,599.2 L811.5,599.7 L813.4,600.1 L815.4,600.5 L817.4,600.8 L819.4,601.1 L821.4,601.3 L823.4,601.5 L825.4,601.6 L827.4,601.7 L829.4,601.7 L831.4,601.6 L833.4,601.5 L835.4,601.3 L837.3,601.1 L839.3,600.8 L841.3,600.4 L843.2,600.0 L845.2,599.6 L847.1,599.1 L849.0,598.5 L850.9,598.0 L852.9,597.4 L854.8,596.9 L856.7,596.3 L858.6,595.8 L860.6,595.3 L862.5,594.8 L864.5,594.3 L866.4,593.9 L868.4,593.5 L870.3,593.1 L872.3,592.7 L874.2,592.3 L876.2,591.8 L878.1,591.4 L880.1,591.0 L882.0,590.5 L883.9,590.0 L885.8,589.5 L887.7,589.0 L889.7,588.5 L891.6,588.0 L893.5,587.4 L895.4,586.9 L897.4,586.4 L899.3,585.8 L901.3,585.3 L903.3,584.8 L905.3,584.3 L907.2,583.9 L909.2,583.5 L911.2,583.2 L913.2,582.9 L915.2,582.8 L917.2,582.8 L919.1,582.9 L921.1,583.1 L923.0,583.5 L924.9,584.0 L926.8,584.6 L928.7,585.2 L930.6,585.9 L932.5,586.7 L934.4,587.4 L936.3,588.1 L938.2,588.7 L940.1,589.3 L942.0,589.8 L944.0,590.3 L945.9,590.7 L947.9,591.1 L949.8,591.4 L951.8,591.8 L953.8,592.1 L955.7,592.5 L957.7,593.0 L959.6,593.4 L961.5,593.9 L963.5,594.4 L965.4,595.0 L967.3,595.5 L969.2,596.1 L971.1,596.7 L973.0,597.4 L974.9,598.0 L976.8,598.7 L978.7,599.3 L980.6,600.0 L982.4,600.7 L984.3,601.4 L986.2,602.1 L988.1,602.8 L989.9,603.6 L991.7,604.3 L993.6,605.1 L995.4,606.0 L997.2,606.8 L999.0,607.7 L1000.8,608.6 L1002.6,609.4 L1004.3,610.4 L1006.1,611.3 L1007.9,612.2 L1009.6,613.2 L1011.4,614.1 L1013.1,615.1 L1014.9,616.1 L1016.6,617.0 L1018.3,618.0 L1020.1,619.0 L1021.8,620.0 L1023.6,620.9 L1025.3,621.9 L1027.0,622.9 L1028.8,623.8 L1030.5,624.8 L1032.3,625.8 L1034.1,626.7 L1035.8,627.6 L1037.6,628.5 L1039.4,629.4" fill="none" stroke="#ff0000" stroke-width="3.5"/>
<path d="M213.0,500.1 L215.0,500.4 L217.0,500.7 L218.9,501.1 L220.9,501.4 L222.9,501.7 L224.9,502.0 L226.9,502.3 L228.8,502.6 L230.8,502.9 L232.8,503.2 L234.8,503.5 L236.8,503.7 L238.7,504.0 L240.7,504.3 L242.7,504.5 L244.7,504.8 L246.7,505.1 L248.7,505.3 L250.7,505.5 L252.6,505.8 L254.6,506.0 L256.6,506.2 L258.6,506.4 L260.6,506.7 L262.6,506.9 L264.6,507.1 L266.5,507.3 L268.5,507.5 L270.5,507.7 L272.5,507.9 L274.5,508.0 L276.5,508.2 L278.5,508.4 L280.5,508.6 L282.5,508.7 L284.4,508.9 L286.4,509.0 L288.4,509.2 L290.4,509.3 L292.4,509.5 L294.4,509.6 L296.4,509.8 L298.4,509.9 L300.4,510.0 L302.4,510.1 L304.4,510.3 L306.4,510.4 L308.4,510.5 L310.4,510.6 L312.4,510.7 L314.4,510.8 L316.3,510.9 L318.3,511.0 L320.3,511.1 L322.3,511.2 L324.3,511.2 L326.3,511.3 L328.3,511.4 L330.3,511.5 L332.3,511.5 L334.3,511.6 L336.3,511.7 L338.3,511.7 L340.3,511.8 L342.3,511.8 L344.3,511.9 L346.3,511.9 L348.3,512.0 L350.3,512.0 L352.3,512.0 L354.3,512.1 L356.3,512.1 L358.3,512.1 L360.3,512.2 L362.3,512.2 L364.3,512.2 L366.3,512.2 L368.3,512.2 L370.3,512.3 L372.3,512.3 L374.3,512.3 L376.3,512.3 L378.3,512.3 L380.3,512.3 L382.3,512.3 L384.3,512.3 L386.3,512.3 L388.3,512.3 L390.3,512.2 L392.3,512.2 L394.3,512.2 L396.3,512.2 L398.3,512.2 L400.3,512.1 L402.3,512.1 L404.3,512.1 L406.3,512.1 L408.3,512.0 L410.3,512.0 L412.3,512.0 L414.3,511.9 L416.3,511.9 L418.3,511.8 L420.3,511.8 L422.3,511.7 L424.3,511.7 L426.3,511.6 L428.3,511.6 L430.3,511.5 L432.3,511.5 L434.3,511.4 L436.3,511.4 L438.3,511.3 L440.3,511.3 L442.3,511.2 L444.3,511.1 L446.3,511.1 L448.3,511.0 L450.3,510.9 L452.3,510.9 L454.3,510.8 L456.3,510.7 L458.3,510.6 L460.3,510.6 L462.3,510.5 L464.3,510.4 L466.3,510.3 L468.3,510.2 L470.3,510.2 L472.3,510.1 L474.3,510.0 L476.2,509.9 L478.2,509.8 L480.2,509.7 L482.2,509.6 L484.2,509.5 L486.2,509.4 L488.2,509.3 L490.2,509.2 L492.2,509.1 L494.2,509.0 L496.2,508.9 L498.2,508.7 L500.2,508.6 L502.2,508.5 L504.2,508.4 L506.2,508.2 L508.2,508.1 L510.2,508.0 L512.2,507.9 L514.2,507.7 L516.1,507.6 L518.1,507.4 L520.1,507.3 L522.1,507.1 L524.1,507.0 L526.1,506.8 L528.1,506.7 L530.1,506.5 L532.1,506.4 L534.1,506.2 L536.1,506.0 L538.1,505.9 L540.1,505.7 L542.0,505.5 L544.0,505.3 L546.0,505.2 L548.0,505.0 L550.0,504.8 L552.0,504.6 L554.0,504.4 L556.0,504.2 L558.0,504.0 L560.0,503.8 L562.0,503.6 L563.9,503.4 L565.9,503.2 L567.9,503.0 L569.9,502.8 L571.9,502.6 L573.9,502.4 L575.9,502.2 L577.9,502.0 L579.9,501.8 L581.9,501.6 L583.8,501.3 L585.8,501.1 L587.8,500.9 L589.8,500.7 L591.8,500.5 L593.8,500.3 L595.8,500.1 L597.8,499.9 L599.8,499.7 L601.8,499.5 L603.7,499.2 L605.7,499.0 L607.7,498.8 L609.7,498.6 L611.7,498.4 L613.7,498.2 L615.7,498.0 L617.7,497.8 L619.7,497.7 L621.7,497.5 L623.6,497.3 L625.6,497.1 L627.6,496.9 L629.6,496.7 L631.6,496.5 L633.6,496.4 L635.6,496.2 L637.6,496.0 L639.6,495.9 L641.6,495.7 L643.6,495.5 L645.6,495.4 L647.5,495.2 L649.5,495.1 L651.5,494.9 L653.5,494.8 L655.5,494.7 L657.5,494.5 L659.5,494.4 L661.5,494.3 L663.5,494.2 L665.5,494.1 L667.5,494.0 L669.5,493.9 L671.5,493.8 L673.5,493.7 L675.4,493.6 L677.4,493.5 L679.4,493.4 L681.4,493.4 L683.4,493.3 L685.4,493.2 L687.4,493.2 L689.4,493.1 L691.4,493.1 L693.4,493.0 L695.4,493.0 L697.4,493.0 L699.4,492.9 L701.4,492.9 L703.4,492.9 L705.4,492.9 L707.4,492.9 L709.4,492.9 L711.4,492.9 L713.4,492.9 L715.4,492.9 L717.4,492.9 L719.4,492.9 L721.4,492.9 L723.3,493.0 L725.3,493.0 L727.3,493.0 L729.3,493.1 L731.3,493.1 L733.3,493.1 L735.3,493.2 L737.3,493.2 L739.3,493.3 L741.3,493.4 L743.3,493.4 L745.3,493.5 L747.3,493.6 L749.3,493.6 L751.3,493.7 L753.3,493.8 L755.3,493.9 L757.3,493.9 L759.3,494.0 L761.3,494.1 L763.3,494.2 L765.3,494.3 L767.3,494.4 L769.3,494.5 L771.3,494.6 L773.3,494.7 L775.3,494.9 L777.3,495.0 L779.3,495.1 L781.3,495.2 L783.3,495.3 L785.3,495.5 L787.3,495.6 L789.2,495.7 L791.2,495.9 L793.2,496.0 L795.2,496.1 L797.2,496.3 L799.2,496.4 L801.2,496.6 L803.2,496.7 L805.2,496.9 L807.2,497.0 L809.2,497.2 L811.2,497.3 L813.2,497.5 L815.2,497.6 L817.2,497.8 L819.2,498.0 L821.2,498.1 L823.2,498.3 L825.2,498.5 L827.2,498.6 L829.1,498.8 L831.1,499.0 L833.1,499.1 L835.1,499.3 L837.1,499.5 L839.1,499.6 L841.1,499.8 L843.1,500.0 L845.1,500.1 L847.1,500.3 L849.1,500.5 L851.1,500.6 L853.1,500.8 L855.1,501.0 L857.1,501.2 L859.1,501.3 L861.1,501.5 L863.0,501.7 L865.0,501.8 L867.0,502.0 L869.0,502.2 L871.0,502.3 L873.0,502.5 L875.0,502.6 L877.0,502.8 L879.0,503.0 L881.0,503.1 L883.0,503.3 L885.0,503.4 L887.0,503.6 L889.0,503.7 L891.0,503.9 L892.9,504.0 L894.9,504.2 L896.9,504.3 L898.9,504.4 L900.9,504.6 L902.9,504.7 L904.9,504.8 L906.9,505.0 L908.9,505.1 L910.9,505.2 L912.9,505.3 L914.9,505.5 L916.9,505.6 L918.9,505.7 L920.9,505.8 L922.9,505.9 L924.9,506.0 L926.9,506.1 L928.8,506.2 L930.8,506.3 L932.8,506.4 L934.8,506.4 L936.8,506.5 L938.8,506.6 L940.8,506.7 L942.8,506.7 L944.8,506.8 L946.8,506.8 L948.8,506.9 L950.8,506.9 L952.8,507.0 L954.8,507.0 L956.8,507.1 L958.8,507.1 L960.8,507.1 L962.8,507.1 L964.8,507.1 L966.8,507.1 L968.8,507.2 L970.8,507.1 L972.8,507.1 L974.8,507.1 L976.8,507.1 L978.8,507.1 L980.8,507.1 L982.8,507.1 L984.8,507.0 L986.8,507.0 L988.8,507.0 L990.8,506.9 L992.8,506.9 L994.8,506.8 L996.8,506.8 L998.8,506.7 L1000.8,506.6 L1002.8,506.6 L1004.8,506.5 L1006.8,506.4 L1008.8,506.4 L1010.8,506.3 L1012.8,506.2 L1014.7,506.1 L1016.7,506.1 L1018.7,506.0 L1020.7,505.9 L1022.7,505.8 L1024.7,505.7 L1026.7,505.6 L1028.7,505.5 L1030.7,505.4 L1032.7,505.3 L1034.7,505.2 L1036.7,505.1 L1038.7,504.9 L1040.7,504.8 L1042.7,504.7 L1044.7,504.6 L1046.7,504.5 L1048.7,504.3 L1050.7,504.2 L1052.7,504.1 L1054.7,504.0 L1056.7,503.8 L1058.7,503.7 L1060.7,503.6 L1062.7,503.4 L1064.7,503.3 L1066.7,503.2 L1068.7,503.0 L1070.7,502.9 L1072.7,502.8 L1074.7,502.6 L1076.7,502.5 L1078.7,502.3 L1080.7,502.2 L1082.7,502.0 L1084.7,501.9 L1086.7,501.8 L1088.7,501.6 L1090.7,501.5 L1092.7,501.3 L1094.7,501.2 L1096.7,501.0 L1098.7,500.9 L1100.7,500.7 L1102.7,500.6 L1104.7,500.4 L1106.6,500.3 L1108.6,500.1 L1110.6,500.0 L1112.6,499.9 L1114.6,499.7 L1116.6,499.6 L1118.6,499.4 L1120.6,499.3 L1122.6,499.1 L1124.6,499.0 L1126.6,498.9 L1128.6,498.7 L1130.6,498.6 L1132.6,498.4 L1134.6,498.3 L1136.5,498.2 L1138.5,498.0 L1140.5,497.9 L1142.5,497.8 L1144.5,497.6" fill="none" stroke="#000" stroke-width="3"/>
<path d="M46,509.3 Q127,503.2 213,499.3" fill="none" stroke="#000" stroke-width="3"/>
<path d="M46.0,541.5 L48.0,541.5 L50.0,541.4 L52.0,541.3 L54.0,541.3 L56.0,541.2 L58.0,541.1 L60.0,541.1 L62.0,541.0 L64.0,540.9 L66.0,540.8 L67.9,540.8 L69.9,540.7 L71.9,540.6 L73.9,540.5 L75.9,540.4 L77.9,540.3 L79.9,540.3 L81.9,540.2 L83.9,540.1 L85.9,540.0 L87.9,539.9 L89.9,539.8 L91.9,539.8 L93.9,539.7 L95.9,539.6 L97.9,539.5 L99.9,539.4 L101.9,539.3 L103.9,539.3 L105.9,539.2 L107.9,539.1 L109.9,539.0 L111.9,538.9 L113.9,538.9 L115.9,538.8 L117.9,538.7 L119.9,538.6 L121.9,538.5 L123.9,538.5 L125.9,538.4 L127.9,538.3 L129.9,538.3 L131.9,538.2 L133.9,538.1 L135.9,538.1 L137.9,538.0 L139.9,537.9 L141.9,537.9 L143.9,537.8 L145.9,537.8 L147.9,537.7 L149.9,537.7 L151.9,537.6 L153.9,537.6 L155.9,537.5 L157.9,537.5 L159.9,537.4 L161.9,537.4 L163.9,537.4 L165.9,537.4 L167.9,537.3 L169.8,537.3 L171.8,537.3 L173.8,537.3 L175.8,537.3 L177.8,537.3 L179.8,537.2 L181.8,537.2 L183.8,537.2 L185.8,537.3 L187.8,537.3 L189.8,537.3 L191.8,537.3 L193.8,537.3 L195.8,537.3 L197.8,537.4 L199.8,537.4 L201.8,537.5 L203.8,537.5 L205.8,537.5 L207.8,537.6 L209.8,537.7 L211.8,537.7 L213.8,537.8 L215.8,537.8 L217.8,537.9 L219.8,538.0 L221.8,538.1 L223.8,538.2 L225.8,538.2 L227.8,538.3 L229.8,538.4 L231.8,538.5 L233.8,538.6 L235.8,538.7 L237.7,538.8 L239.7,538.9 L241.7,539.0 L243.7,539.1 L245.7,539.2 L247.7,539.3 L249.7,539.4 L251.7,539.5 L253.7,539.6 L255.7,539.7 L257.7,539.8 L259.7,539.9 L261.7,540.1 L263.7,540.2 L265.7,540.3 L267.7,540.4 L269.7,540.5 L271.7,540.6 L273.7,540.7 L275.7,540.8 L277.7,540.9 L279.7,541.0 L281.6,541.1 L283.6,541.2 L285.6,541.3 L287.6,541.4 L289.6,541.5 L291.6,541.6 L293.6,541.7 L295.6,541.8 L297.6,541.9 L299.6,542.0 L301.6,542.1 L303.6,542.1 L305.6,542.2 L307.6,542.3 L309.6,542.4 L311.6,542.4 L313.6,542.5 L315.6,542.6 L317.6,542.6 L319.6,542.7 L321.6,542.7 L323.6,542.8 L325.6,542.8 L327.6,542.9 L329.6,542.9 L331.6,543.0 L333.6,543.0 L335.5,543.1 L337.5,543.1 L339.5,543.1 L341.5,543.2 L343.5,543.2 L345.5,543.2 L347.5,543.3 L349.5,543.3 L351.5,543.3 L353.5,543.3 L355.5,543.3 L357.5,543.3 L359.5,543.4 L361.5,543.4 L363.5,543.4 L365.5,543.4 L367.5,543.4 L369.5,543.4 L371.5,543.4 L373.5,543.4 L375.5,543.4 L377.5,543.4 L379.5,543.4 L381.5,543.4 L383.5,543.4 L385.5,543.4 L387.5,543.4 L389.5,543.3 L391.5,543.3 L393.5,543.3 L395.5,543.3 L397.5,543.3 L399.5,543.3 L401.5,543.2 L403.5,543.2 L405.5,543.2 L407.5,543.2 L409.5,543.1 L411.5,543.1 L413.5,543.1 L415.5,543.1 L417.5,543.0 L419.5,543.0 L421.5,543.0 L423.5,542.9 L425.5,542.9 L427.4,542.9 L429.4,542.8 L431.4,542.8 L433.4,542.8 L435.4,542.7 L437.4,542.7 L439.4,542.6 L441.4,542.6 L443.4,542.6 L445.4,542.5 L447.4,542.5 L449.4,542.4 L451.4,542.4 L453.4,542.3 L455.4,542.3 L457.4,542.3 L459.4,542.2 L461.4,542.2 L463.4,542.1 L465.4,542.1 L467.4,542.0 L469.4,542.0 L471.4,541.9 L473.4,541.9 L475.4,541.9 L477.4,541.8 L479.4,541.8 L481.4,541.7 L483.4,541.7 L485.4,541.6 L487.4,541.6 L489.4,541.5 L491.4,541.5 L493.4,541.4 L495.4,541.4 L497.4,541.4 L499.4,541.3 L501.4,541.3 L503.4,541.2 L505.4,541.2 L507.4,541.1 L509.4,541.1 L511.4,541.0 L513.4,541.0 L515.4,541.0 L517.4,540.9 L519.4,540.9 L521.4,540.8 L523.4,540.8 L525.4,540.7 L527.4,540.7 L529.4,540.6 L531.4,540.6 L533.3,540.5 L535.3,540.5 L537.3,540.4 L539.3,540.4 L541.3,540.3 L543.3,540.2 L545.3,540.2 L547.3,540.1 L549.3,540.1 L551.3,540.0 L553.3,539.9 L555.3,539.8 L557.3,539.8 L559.3,539.7 L561.3,539.6 L563.3,539.5 L565.3,539.4 L567.3,539.3 L569.3,539.2 L571.3,539.1 L573.3,539.0 L575.3,538.9 L577.3,538.8 L579.3,538.7 L581.3,538.6 L583.3,538.5 L585.3,538.4 L587.3,538.3 L589.3,538.1 L591.3,538.0 L593.3,537.9 L595.2,537.8 L597.2,537.7 L599.2,537.6 L601.2,537.4 L603.2,537.3 L605.2,537.2 L607.2,537.1 L609.2,537.0 L611.2,536.8 L613.2,536.7 L615.2,536.6 L617.2,536.5 L619.2,536.4 L621.2,536.3 L623.2,536.2 L625.2,536.0 L627.2,535.9 L629.2,535.8 L631.2,535.7 L633.2,535.6 L635.2,535.5 L637.2,535.4 L639.2,535.3 L641.2,535.2 L643.2,535.1 L645.2,535.0 L647.2,534.9 L649.1,534.9 L651.1,534.8 L653.1,534.7 L655.1,534.6 L657.1,534.6 L659.1,534.5 L661.1,534.4 L663.1,534.4 L665.1,534.3 L667.1,534.3 L669.1,534.2 L671.1,534.2 L673.1,534.1 L675.1,534.1 L677.1,534.0 L679.1,534.0 L681.1,534.0 L683.1,533.9 L685.1,533.9 L687.1,533.9 L689.1,533.8 L691.1,533.8 L693.1,533.8 L695.1,533.8 L697.1,533.8 L699.1,533.8 L701.1,533.8 L703.1,533.8 L705.1,533.7 L707.1,533.7 L709.1,533.7 L711.0,533.8 L713.0,533.8 L715.0,533.8 L717.0,533.8 L719.0,533.8 L721.0,533.8 L723.0,533.8 L725.0,533.8 L727.0,533.9 L729.0,533.9 L731.0,533.9 L733.0,533.9 L735.0,533.9 L737.0,534.0 L739.0,534.0 L741.0,534.0 L743.0,534.1 L745.0,534.1 L747.0,534.1 L749.0,534.2 L751.0,534.2 L753.0,534.3 L755.0,534.3 L757.0,534.4 L759.0,534.4 L761.0,534.4 L763.0,534.5 L765.0,534.5 L767.0,534.6 L769.0,534.6 L771.0,534.7 L773.0,534.8 L775.0,534.8 L777.0,534.9 L779.0,534.9 L781.0,535.0 L783.0,535.0 L785.0,535.1 L786.9,535.2 L788.9,535.2 L790.9,535.3 L792.9,535.3 L794.9,535.4 L796.9,535.5 L798.9,535.5 L800.9,535.6 L802.9,535.7 L804.9,535.7 L806.9,535.8 L808.9,535.9 L810.9,535.9 L812.9,536.0 L814.9,536.1 L816.9,536.1 L818.9,536.2 L820.9,536.3 L822.9,536.4 L824.9,536.4 L826.9,536.5 L828.9,536.6 L830.9,536.6 L832.9,536.7 L834.9,536.8 L836.9,536.8 L838.9,536.9 L840.9,537.0 L842.9,537.0 L844.9,537.1 L846.9,537.2 L848.9,537.2 L850.9,537.3 L852.9,537.4 L854.9,537.4 L856.9,537.5 L858.9,537.6 L860.9,537.6 L862.8,537.7 L864.8,537.8 L866.8,537.8 L868.8,537.9 L870.8,538.0 L872.8,538.0 L874.8,538.1 L876.8,538.1 L878.8,538.2 L880.8,538.3 L882.8,538.3 L884.8,538.4 L886.8,538.4 L888.8,538.5 L890.8,538.5 L892.8,538.6 L894.8,538.7 L896.8,538.7 L898.8,538.8 L900.8,538.8 L902.8,538.9 L904.8,538.9 L906.8,538.9 L908.8,539.0 L910.8,539.0 L912.8,539.1 L914.8,539.1 L916.8,539.2 L918.8,539.2 L920.8,539.2 L922.8,539.3 L924.8,539.3 L926.8,539.4 L928.8,539.4 L930.8,539.4 L932.7,539.5 L934.7,539.5 L936.7,539.5 L938.7,539.5 L940.7,539.6 L942.7,539.6 L944.7,539.6 L946.7,539.6 L948.7,539.7 L950.7,539.7 L952.7,539.7 L954.7,539.7 L956.7,539.7 L958.7,539.8 L960.7,539.8 L962.7,539.8 L964.7,539.8 L966.7,539.8 L968.7,539.8 L970.7,539.8 L972.7,539.8 L974.7,539.8 L976.7,539.8 L978.7,539.8 L980.7,539.8 L982.7,539.8 L984.7,539.8 L986.7,539.8 L988.7,539.8 L990.7,539.8 L992.7,539.7 L994.7,539.7 L996.7,539.7 L998.7,539.7 L1000.7,539.7 L1002.6,539.6 L1004.6,539.6 L1006.6,539.6 L1008.6,539.6 L1010.6,539.5 L1012.6,539.5 L1014.6,539.5 L1016.6,539.4 L1018.6,539.4 L1020.6,539.3 L1022.6,539.3 L1024.6,539.2 L1026.6,539.2 L1028.6,539.1 L1030.6,539.1 L1032.6,539.0 L1034.6,539.0 L1036.6,538.9 L1038.6,538.9 L1040.6,538.8 L1042.6,538.7 L1044.6,538.7 L1046.6,538.6 L1048.6,538.5 L1050.6,538.4 L1052.6,538.4 L1054.6,538.3 L1056.6,538.2 L1058.6,538.1 L1060.6,538.0 L1062.6,537.9 L1064.6,537.8 L1066.6,537.7 L1068.6,537.6 L1070.6,537.5 L1072.6,537.4 L1074.6,537.3 L1076.6,537.2 L1078.6,537.1 L1080.6,537.0 L1082.6,536.9 L1084.6,536.8 L1086.6,536.7 L1088.6,536.6 L1090.6,536.5 L1092.6,536.5 L1094.6,536.4 L1096.5,536.3 L1098.5,536.2 L1100.5,536.1 L1102.5,536.0 L1104.5,535.9 L1106.5,535.9 L1108.5,535.8 L1110.5,535.7 L1112.5,535.7 L1114.5,535.6 L1116.5,535.6 L1118.5,535.5 L1120.5,535.5 L1122.5,535.5 L1124.5,535.4 L1126.5,535.4 L1128.5,535.4 L1130.5,535.4 L1132.5,535.4 L1134.5,535.4 L1136.5,535.4 L1138.5,535.5 L1140.5,535.5 L1142.5,535.5 L1144.5,535.6" fill="none" stroke="#000" stroke-width="3"/>
<path d="M46.0,639.1 L48.0,639.1 L50.0,639.0 L52.0,639.0 L54.0,638.9 L55.9,638.8 L57.9,638.7 L59.9,638.6 L61.9,638.5 L63.9,638.4 L65.9,638.2 L67.9,638.1 L69.9,638.0 L71.9,637.8 L73.9,637.7 L75.9,637.5 L77.9,637.4 L79.8,637.2 L81.8,637.1 L83.8,636.9 L85.8,636.7 L87.8,636.5 L89.8,636.4 L91.8,636.2 L93.8,636.0 L95.8,635.8 L97.8,635.6 L99.8,635.5 L101.8,635.3 L103.8,635.1 L105.8,634.9 L107.8,634.7 L109.8,634.5 L111.8,634.4 L113.8,634.2 L115.8,634.0 L117.8,633.8 L119.7,633.6 L121.7,633.5 L123.7,633.3 L125.7,633.1 L127.7,632.9 L129.7,632.8 L131.7,632.6 L133.7,632.5 L135.7,632.3 L137.7,632.2 L139.7,632.0 L141.7,631.9 L143.7,631.8 L145.7,631.7 L147.7,631.5 L149.7,631.4 L151.7,631.3 L153.7,631.3 L155.7,631.2 L157.7,631.1 L159.7,631.0 L161.7,631.0 L163.7,630.9 L165.7,630.9 L167.6,630.8 L169.6,630.8 L171.6,630.8 L173.6,630.8 L175.6,630.8 L177.6,630.9 L179.6,630.9 L181.6,630.9 L183.6,631.0 L185.6,631.0 L187.6,631.1 L189.6,631.2 L191.6,631.3 L193.6,631.4 L195.5,631.5 L197.5,631.6 L199.5,631.7 L201.5,631.8 L203.5,632.0 L205.5,632.1 L207.5,632.2 L209.5,632.4 L211.5,632.5 L213.5,632.7 L215.5,632.8 L217.5,633.0 L219.4,633.2 L221.4,633.3 L223.4,633.5 L225.4,633.7 L227.4,633.9 L229.4,634.1 L231.4,634.2 L233.4,634.4 L235.4,634.6 L237.4,634.8 L239.4,635.0 L241.3,635.2 L243.3,635.3 L245.3,635.5 L247.3,635.7 L249.3,635.9 L251.3,636.1 L253.3,636.2 L255.3,636.4 L257.3,636.6 L259.3,636.8 L261.3,636.9 L263.2,637.1 L265.2,637.2 L267.2,637.4 L269.2,637.5 L271.2,637.7 L273.2,637.8 L275.2,638.0 L277.2,638.1 L279.2,638.2 L281.2,638.4 L283.2,638.5 L285.2,638.6 L287.2,638.7 L289.1,638.8 L291.1,639.0 L293.1,639.1 L295.1,639.2 L297.1,639.3 L299.1,639.4 L301.1,639.5 L303.1,639.6 L305.1,639.6 L307.1,639.7 L309.1,639.8 L311.1,639.9 L313.1,640.0 L315.1,640.0 L317.1,640.1 L319.1,640.2 L321.0,640.2 L323.0,640.3 L325.0,640.4 L327.0,640.4 L329.0,640.5 L331.0,640.5 L333.0,640.6 L335.0,640.6 L337.0,640.7 L339.0,640.7 L341.0,640.8 L343.0,640.8 L345.0,640.8 L347.0,640.9 L349.0,640.9 L351.0,640.9 L353.0,641.0 L355.0,641.0 L357.0,641.0 L359.0,641.0 L361.0,641.1 L363.0,641.1 L364.9,641.1 L366.9,641.1 L368.9,641.1 L370.9,641.1 L372.9,641.2 L374.9,641.2 L376.9,641.2 L378.9,641.2 L380.9,641.2 L382.9,641.2 L384.9,641.2 L386.9,641.2 L388.9,641.2 L390.9,641.2 L392.9,641.2 L394.9,641.2 L396.9,641.2 L398.9,641.2 L400.9,641.2 L402.9,641.2 L404.9,641.2 L406.9,641.2 L408.9,641.2 L410.9,641.2 L412.9,641.2 L414.9,641.2 L416.9,641.2 L418.9,641.2 L420.9,641.1 L422.9,641.1 L424.9,641.1 L426.9,641.1 L428.9,641.1 L430.9,641.1 L432.9,641.1 L434.9,641.1 L436.9,641.1 L438.9,641.1 L440.9,641.1 L442.9,641.0 L444.8,641.0 L446.8,641.0 L448.8,641.0 L450.8,641.0 L452.8,641.0 L454.8,641.0 L456.8,641.0 L458.8,640.9 L460.8,640.9 L462.8,640.9 L464.8,640.9 L466.8,640.8 L468.8,640.8 L470.8,640.8 L472.8,640.8 L474.8,640.7 L476.8,640.7 L478.8,640.7 L480.8,640.6 L482.8,640.6 L484.8,640.5 L486.8,640.5 L488.8,640.5 L490.8,640.4 L492.8,640.3 L494.8,640.3 L496.8,640.2 L498.8,640.2 L500.8,640.1 L502.8,640.0 L504.8,640.0 L506.8,639.9 L508.8,639.8 L510.8,639.7 L512.8,639.6 L514.8,639.5 L516.8,639.4 L518.7,639.3 L520.7,639.2 L522.7,639.1 L524.7,639.0 L526.7,638.9 L528.7,638.8 L530.7,638.7 L532.7,638.5 L534.7,638.4 L536.7,638.3 L538.7,638.1 L540.7,638.0 L542.7,637.8 L544.7,637.7 L546.7,637.5 L548.6,637.3 L550.6,637.2 L552.6,637.0 L554.6,636.8 L556.6,636.6 L558.6,636.4 L560.6,636.2 L562.6,636.0 L564.6,635.8 L566.6,635.6 L568.5,635.4 L570.5,635.2 L572.5,635.0 L574.5,634.8 L576.5,634.6 L578.5,634.4 L580.5,634.2 L582.5,634.0 L584.4,633.8 L586.4,633.5 L588.4,633.3 L590.4,633.1 L592.4,632.9 L594.4,632.7 L596.4,632.4 L598.4,632.2 L600.3,632.0 L602.3,631.8 L604.3,631.6 L606.3,631.3 L608.3,631.1 L610.3,630.9 L612.3,630.7 L614.3,630.5 L616.3,630.3 L618.2,630.1 L620.2,629.9 L622.2,629.7 L624.2,629.5 L626.2,629.3 L628.2,629.1 L630.2,628.9 L632.2,628.7 L634.2,628.5 L636.1,628.3 L638.1,628.1 L640.1,628.0 L642.1,627.8 L644.1,627.6 L646.1,627.5 L648.1,627.3 L650.1,627.2 L652.1,627.0 L654.1,626.9 L656.0,626.7 L658.0,626.6 L660.0,626.5 L662.0,626.4 L664.0,626.2 L666.0,626.1 L668.0,626.0 L670.0,625.9 L672.0,625.8 L674.0,625.7 L676.0,625.6 L678.0,625.5 L680.0,625.5 L682.0,625.4 L683.9,625.3 L685.9,625.3 L687.9,625.2 L689.9,625.1 L691.9,625.1 L693.9,625.0 L695.9,625.0 L697.9,624.9 L699.9,624.9 L701.9,624.9 L703.9,624.9 L705.9,624.8 L707.9,624.8 L709.9,624.8 L711.9,624.8 L713.9,624.8 L715.9,624.8 L717.9,624.8 L719.9,624.8 L721.9,624.8 L723.9,624.8 L725.9,624.8 L727.8,624.8 L729.8,624.8 L731.8,624.9 L733.8,624.9 L735.8,624.9 L737.8,625.0 L739.8,625.0 L741.8,625.0 L743.8,625.1 L745.8,625.1 L747.8,625.2 L749.8,625.2 L751.8,625.3 L753.8,625.4 L755.8,625.4 L757.8,625.5 L759.8,625.6 L761.8,625.6 L763.8,625.7 L765.8,625.8 L767.8,625.9 L769.8,626.0 L771.8,626.0 L773.8,626.1 L775.8,626.2 L777.8,626.3 L779.8,626.4 L781.8,626.5 L783.7,626.6 L785.7,626.7 L787.7,626.8 L789.7,626.9 L791.7,627.1 L793.7,627.2 L795.7,627.3 L797.7,627.4 L799.7,627.5 L801.7,627.7 L803.7,627.8 L805.7,627.9 L807.7,628.0 L809.7,628.2 L811.7,628.3 L813.7,628.4 L815.7,628.6 L817.7,628.7 L819.7,628.9 L821.7,629.0 L823.6,629.1 L825.6,629.3 L827.6,629.4 L829.6,629.6 L831.6,629.7 L833.6,629.9 L835.6,630.0 L837.6,630.2 L839.6,630.3 L841.6,630.5 L843.6,630.6 L845.6,630.8 L847.6,630.9 L849.6,631.1 L851.5,631.2 L853.5,631.4 L855.5,631.5 L857.5,631.7 L859.5,631.8 L861.5,632.0 L863.5,632.1 L865.5,632.3 L867.5,632.4 L869.5,632.6 L871.5,632.7 L873.5,632.9 L875.5,633.0 L877.5,633.2 L879.4,633.3 L881.4,633.5 L883.4,633.6 L885.4,633.8 L887.4,633.9 L889.4,634.0 L891.4,634.2 L893.4,634.3 L895.4,634.5 L897.4,634.6 L899.4,634.7 L901.4,634.9 L903.4,635.0 L905.3,635.1 L907.3,635.2 L909.3,635.3 L911.3,635.5 L913.3,635.6 L915.3,635.7 L917.3,635.8 L919.3,635.9 L921.3,636.0 L923.3,636.1 L925.3,636.2 L927.3,636.3 L929.3,636.4 L931.3,636.5 L933.2,636.6 L935.2,636.7 L937.2,636.8 L939.2,636.8 L941.2,636.9 L943.2,637.0 L945.2,637.1 L947.2,637.1 L949.2,637.2 L951.2,637.2 L953.2,637.3 L955.2,637.3 L957.2,637.4 L959.2,637.4 L961.2,637.4 L963.2,637.5 L965.2,637.5 L967.2,637.5 L969.1,637.5 L971.1,637.6 L973.1,637.6 L975.1,637.6 L977.1,637.6 L979.1,637.5 L981.1,637.5 L983.1,637.5 L985.1,637.5 L987.1,637.5 L989.1,637.4 L991.1,637.4 L993.1,637.3 L995.1,637.3 L997.1,637.2 L999.1,637.2 L1001.1,637.1 L1003.1,637.0 L1005.1,636.9 L1007.1,636.9 L1009.1,636.8 L1011.1,636.7 L1013.1,636.6 L1015.1,636.4 L1017.1,636.3 L1019.1,636.2 L1021.1,636.1 L1023.1,635.9 L1025.1,635.8 L1027.1,635.6 L1029.1,635.5 L1031.1,635.3 L1033.1,635.1 L1035.1,634.9 L1037.1,634.7 L1039.1,634.5" fill="none" stroke="#000" stroke-width="3"/>
<path d="M46.0,591.8 L48.0,591.7 L50.0,591.6 L52.0,591.4 L54.0,591.3 L56.0,591.2 L58.0,591.1 L60.0,591.0 L62.0,590.9 L64.0,590.8 L66.0,590.7 L68.0,590.6 L70.0,590.5 L72.0,590.4 L74.0,590.3 L76.0,590.2 L78.0,590.1 L80.0,590.0 L82.0,589.9 L84.0,589.9 L86.0,589.8 L88.0,589.7 L90.0,589.6 L92.0,589.5 L94.0,589.5 L95.9,589.4 L97.9,589.3 L99.9,589.2 L101.9,589.2 L103.9,589.1 L105.9,589.0 L107.9,589.0 L109.9,588.9 L111.9,588.9 L113.9,588.8 L115.9,588.8 L117.9,588.7 L119.9,588.6 L121.9,588.6 L123.9,588.6 L125.9,588.5 L127.9,588.5 L129.9,588.4 L131.9,588.4 L133.9,588.3 L135.9,588.3 L137.9,588.3 L139.9,588.2 L141.9,588.2 L143.9,588.2 L145.9,588.2 L147.9,588.1 L149.9,588.1 L151.9,588.1 L153.9,588.1 L155.9,588.1 L157.9,588.0 L159.9,588.0 L161.9,588.0 L163.9,588.0 L165.9,588.0 L167.8,588.0 L169.8,588.0 L171.8,588.0 L173.8,588.0 L175.8,588.0 L177.8,588.0 L179.8,588.0 L181.8,588.0 L183.8,588.0 L185.8,588.0 L187.8,588.0 L189.8,588.1 L191.8,588.1 L193.8,588.1 L195.8,588.1 L197.8,588.1 L199.8,588.2 L201.8,588.2 L203.8,588.2 L205.8,588.3 L207.8,588.3 L209.8,588.3 L211.8,588.4 L213.8,588.4 L215.8,588.5 L217.8,588.5 L219.8,588.5 L221.8,588.6 L223.8,588.6 L225.8,588.7 L227.8,588.7 L229.8,588.8 L231.8,588.9 L233.8,588.9 L235.8,589.0 L237.8,589.0 L239.7,589.1 L241.7,589.2 L243.7,589.2 L245.7,589.3 L247.7,589.4 L249.7,589.4 L251.7,589.5 L253.7,589.6 L255.7,589.7 L257.7,589.7 L259.7,589.8 L261.7,589.9 L263.7,590.0 L265.7,590.0 L267.7,590.1 L269.7,590.2 L271.7,590.3 L273.7,590.4 L275.7,590.4 L277.7,590.5 L279.7,590.6 L281.7,590.7 L283.7,590.8 L285.7,590.9 L287.7,590.9 L289.7,591.0 L291.7,591.1 L293.7,591.2 L295.7,591.3 L297.7,591.3 L299.7,591.4 L301.7,591.5 L303.7,591.6 L305.7,591.7 L307.7,591.7 L309.7,591.8 L311.7,591.9 L313.7,592.0 L315.7,592.0 L317.7,592.1 L319.7,592.2 L321.7,592.2 L323.7,592.3 L325.7,592.4 L327.7,592.4 L329.7,592.5 L331.6,592.6 L333.6,592.6 L335.6,592.7 L337.6,592.7 L339.6,592.8 L341.6,592.8 L343.6,592.9 L345.6,592.9 L347.6,593.0 L349.6,593.0 L351.6,593.1 L353.6,593.1 L355.6,593.2 L357.6,593.2 L359.6,593.2 L361.6,593.3 L363.6,593.3 L365.6,593.3 L367.6,593.3 L369.6,593.4 L371.6,593.4 L373.6,593.4 L375.6,593.4 L377.6,593.5 L379.6,593.5 L381.6,593.5 L383.6,593.5 L385.6,593.5 L387.6,593.5 L389.6,593.5 L391.6,593.5 L393.6,593.5 L395.6,593.5 L397.6,593.5 L399.6,593.5 L401.6,593.5 L403.6,593.5 L405.6,593.5 L407.6,593.5 L409.6,593.5 L411.6,593.5 L413.6,593.5 L415.6,593.5 L417.6,593.5 L419.6,593.5 L421.5,593.4 L423.5,593.4 L425.5,593.4 L427.5,593.4 L429.5,593.4 L431.5,593.3 L433.5,593.3 L435.5,593.3 L437.5,593.3 L439.5,593.2 L441.5,593.2 L443.5,593.2 L445.5,593.2 L447.5,593.1 L449.5,593.1 L451.5,593.1 L453.5,593.0 L455.5,593.0 L457.5,592.9 L459.5,592.9 L461.5,592.9 L463.5,592.8 L465.5,592.8 L467.5,592.7 L469.5,592.7 L471.5,592.6 L473.5,592.6 L475.5,592.5 L477.5,592.5 L479.5,592.4 L481.5,592.4 L483.5,592.3 L485.5,592.3 L487.5,592.2 L489.5,592.2 L491.5,592.1 L493.5,592.1 L495.5,592.0 L497.5,592.0 L499.5,591.9 L501.5,591.8 L503.4,591.8 L505.4,591.7 L507.4,591.7 L509.4,591.6 L511.4,591.5 L513.4,591.5 L515.4,591.4 L517.4,591.3 L519.4,591.3 L521.4,591.2 L523.4,591.1 L525.4,591.1 L527.4,591.0 L529.4,590.9 L531.4,590.9 L533.4,590.8 L535.4,590.7 L537.4,590.7 L539.4,590.6 L541.4,590.5 L543.4,590.4 L545.4,590.4 L547.4,590.3 L549.4,590.2 L551.4,590.2 L553.4,590.1 L555.4,590.0 L557.4,589.9 L559.4,589.9 L561.4,589.8 L563.4,589.7 L565.4,589.6 L567.4,589.6 L569.4,589.5 L571.4,589.4 L573.4,589.3 L575.4,589.2 L577.4,589.2 L579.4,589.1 L581.4,589.0 L583.4,588.9 L585.3,588.9 L587.3,588.8 L589.3,588.7 L591.3,588.6 L593.3,588.5 L595.3,588.5 L597.3,588.4 L599.3,588.3 L601.3,588.2 L603.3,588.2 L605.3,588.1 L607.3,588.0 L609.3,587.9 L611.3,587.8 L613.3,587.8 L615.3,587.7 L617.3,587.6 L619.3,587.5 L621.3,587.5 L623.3,587.4 L625.3,587.3 L627.3,587.2 L629.3,587.2 L631.3,587.1 L633.3,587.0 L635.3,586.9 L637.3,586.8 L639.3,586.8 L641.3,586.7 L643.3,586.6 L645.3,586.5 L647.3,586.5 L649.3,586.4 L651.3,586.3 L653.3,586.3 L655.3,586.2 L657.3,586.1 L659.3,586.0 L661.3,586.0 L663.3,585.9 L665.3,585.8 L667.3,585.8 L669.3,585.7 L671.3,585.6 L673.3,585.5 L675.3,585.5 L677.2,585.4 L679.2,585.3 L681.2,585.3 L683.2,585.2 L685.2,585.2 L687.2,585.1 L689.2,585.0 L691.2,585.0 L693.2,584.9 L695.2,584.8 L697.2,584.8 L699.2,584.7 L701.2,584.7 L703.2,584.6 L705.2,584.5 L707.2,584.5 L709.2,584.4 L711.2,584.4 L713.2,584.3 L715.2,584.3 L717.2,584.2 L719.2,584.2 L721.2,584.1 L723.2,584.1 L725.2,584.0 L727.2,584.0 L729.2,583.9 L731.2,583.9 L733.2,583.8 L735.2,583.8 L737.2,583.8 L739.2,583.7 L741.2,583.7 L743.2,583.6 L745.2,583.6 L747.2,583.6 L749.2,583.5 L751.2,583.5 L753.2,583.5 L755.2,583.4 L757.2,583.4 L759.2,583.4 L761.2,583.3 L763.2,583.3 L765.2,583.3 L767.2,583.3 L769.2,583.2 L771.2,583.2 L773.2,583.2 L775.2,583.2 L777.2,583.2 L779.2,583.1 L781.2,583.1 L783.2,583.1 L785.2,583.1 L787.2,583.1 L789.2,583.1 L791.2,583.1 L793.2,583.1 L795.2,583.1 L797.2,583.1 L799.2,583.1 L801.2,583.1 L803.2,583.1 L805.2,583.1 L807.2,583.1 L809.1,583.1 L811.1,583.1 L813.1,583.1 L815.1,583.1 L817.1,583.1 L819.1,583.1 L821.1,583.1 L823.1,583.2 L825.1,583.2 L827.1,583.2 L829.1,583.2 L831.1,583.2 L833.1,583.3 L835.1,583.3 L837.1,583.3 L839.1,583.4 L841.1,583.4 L843.1,583.4 L845.1,583.5 L847.1,583.5 L849.1,583.6 L851.1,583.6 L853.1,583.6 L855.1,583.7 L857.1,583.7 L859.1,583.8 L861.1,583.8 L863.1,583.9 L865.1,584.0 L867.1,584.0 L869.1,584.1 L871.1,584.1 L873.1,584.2 L875.1,584.3 L877.1,584.3 L879.1,584.4 L881.1,584.5 L883.1,584.5 L885.1,584.6 L887.1,584.7 L889.1,584.7 L891.1,584.8 L893.1,584.9 L895.1,584.9 L897.1,585.0 L899.1,585.1 L901.1,585.1 L903.1,585.2 L905.1,585.3 L907.1,585.3 L909.1,585.4 L911.1,585.5 L913.1,585.5 L915.1,585.6 L917.1,585.6 L919.0,585.7 L921.0,585.7 L923.0,585.8 L925.0,585.9 L927.0,585.9 L929.0,586.1 L931.0,586.2 L933.0,586.4 L934.9,586.6 L936.9,586.8 L938.9,587.1 L940.9,587.4 L942.8,587.7 L944.8,587.9 L946.8,588.2 L948.7,588.5 L950.7,588.7 L952.7,588.9 L954.7,589.1 L956.7,589.2 L958.7,589.4 L960.6,589.5 L962.6,589.7 L964.6,589.8 L966.6,589.9 L968.6,589.9 L970.6,590.0 L972.6,590.1 L974.6,590.1 L976.6,590.1 L978.6,590.2 L980.6,590.2 L982.6,590.2 L984.6,590.2 L986.6,590.1 L988.6,590.1 L990.6,590.1 L992.6,590.0 L994.6,590.0 L996.6,589.9 L998.6,589.9 L1000.6,589.8 L1002.6,589.8 L1004.6,589.7 L1006.6,589.6 L1008.6,589.5 L1010.6,589.4 L1012.6,589.4 L1014.6,589.3 L1016.6,589.2 L1018.6,589.1 L1020.6,589.0 L1022.6,588.9 L1024.6,588.9 L1026.6,588.8 L1028.6,588.7 L1030.6,588.6 L1032.6,588.5 L1034.6,588.5 L1036.6,588.4 L1038.6,588.3 L1040.6,588.3 L1042.6,588.2 L1044.6,588.2 L1046.6,588.1 L1048.6,588.1 L1050.6,588.0 L1052.6,587.9 L1054.6,587.9 L1056.6,587.9 L1058.6,587.8 L1060.6,587.8 L1062.6,587.7 L1064.6,587.7 L1066.6,587.6 L1068.6,587.6 L1070.6,587.6 L1072.6,587.5 L1074.6,587.5 L1076.6,587.4 L1078.6,587.4 L1080.6,587.4 L1082.6,587.3 L1084.6,587.3 L1086.6,587.3 L1088.6,587.2 L1090.6,587.2 L1092.6,587.2 L1094.6,587.1 L1096.6,587.1 L1098.5,587.1 L1100.5,587.0 L1102.5,587.0 L1104.5,587.0 L1106.5,586.9 L1108.5,586.9 L1110.5,586.9 L1112.5,586.8 L1114.5,586.8 L1116.5,586.8 L1118.5,586.7 L1120.5,586.7 L1122.5,586.6 L1124.5,586.6 L1126.5,586.6 L1128.5,586.5 L1130.5,586.5 L1132.5,586.4 L1134.5,586.4 L1136.5,586.3 L1138.5,586.3 L1140.5,586.2 L1142.5,586.2 L1144.5,586.1" fill="none" stroke="#007f00" stroke-width="3"/>
<path d="M46,507.6 Q127,501.5 209,499.8" fill="none" stroke="#3a62d9" stroke-width="3"/>
<path d="M1039,636 L1145.3,628.6" fill="none" stroke="#000" stroke-width="2.5"/>
<path d="M1039,634 L1145.3,626.4" fill="none" stroke="#3a62d9" stroke-width="3.5"/>
<circle cx="212.5" cy="498.5" r="5.5" fill="#ff0000"/>
<circle cx="938.6" cy="588.7" r="5.5" fill="#ff0000"/>
<circle cx="1039.1" cy="628.9" r="5.5" fill="#ff0000"/>
<line x1="127.5" y1="432" x2="127.5" y2="554" stroke="#000" stroke-width="1.5"/>
<polygon points="127.5,563.4 122.2,552.9 132.8,552.9" fill="#000"/>
<line x1="1104.5" y1="441.8" x2="1104.5" y2="645" stroke="#000" stroke-width="1.5"/>
<polygon points="1104.5,654.6 1099.2,644.1 1109.8,644.1" fill="#000"/>
<line x1="631.2" y1="341.4" x2="506" y2="564" stroke="#000" stroke-width="1.5"/>
<polygon points="500.6,572.1 501.2,560.4 510.3,565.5" fill="#000"/>
<line x1="852.5" y1="431.9" x2="919" y2="583" stroke="#000" stroke-width="1.5"/>
<polygon points="923.3,592.5 914.3,585.0 923.9,580.8" fill="#000"/>
<line x1="338.6" y1="452" x2="338.6" y2="583" stroke="#000" stroke-width="1.5"/>
<polygon points="338.6,443.6 343.9,454.1 333.4,454.1" fill="#000"/>
<polygon points="338.6,592.0 333.4,581.5 343.9,581.5" fill="#000"/>
<text x="635" y="331.7" text-anchor="middle" fill="#ee0000" style="font-family:'Liberation Sans',sans-serif;font-size:32px">CGVD28</text>
<text x="126.5" y="396.6" text-anchor="middle" style="font-family:'Liberation Sans',sans-serif;font-size:28.4px">Pacific Ocean</text>
<text x="127" y="418.9" text-anchor="middle" style="font-family:'Liberation Sans',sans-serif;font-size:21.6px">(near Vancouver)</text>
<text x="851" y="396.6" text-anchor="middle" style="font-family:'Liberation Sans',sans-serif;font-size:28.2px">St-Lawrence River</text>
<text x="849.3" y="418.8" text-anchor="middle" style="font-family:'Liberation Sans',sans-serif;font-size:21.2px">(near Rimouski)</text>
<text x="1099.5" y="396.7" text-anchor="middle" style="font-family:'Liberation Sans',sans-serif;font-size:28.2px">Atlantic Ocean</text>
<text x="1098.5" y="418.1" text-anchor="middle" style="font-family:'Liberation Sans',sans-serif;font-size:21.3px">(near Halifax)</text>
<text x="242" y="573.8" style="font-family:'Liberation Sans',sans-serif;font-size:24.8px;font-style:italic">~75 cm</text>
<text transform="translate(456.8,267.6) rotate(80.5)" fill="#993300" style="font-family:'Liberation Sans',sans-serif;font-size:28px">Earth’s surface</text>
<rect x="802.6" y="211.3" width="393" height="79.9" fill="none" stroke="#000" stroke-width="1.3"/>
<circle cx="827.6" cy="236.3" r="5.5" fill="#ee0000"/>
<text x="845" y="240.5" style="font-family:'Liberation Sans',sans-serif;font-size:25px">: CGVD28 Constraints</text>
<text x="860" y="270.9" style="font-family:'Liberation Sans',sans-serif;font-size:25px">(</text>
<text x="866.5" y="270.9" style="font-family:'Liberation Sans',sans-serif;font-size:21.3px">Pacific, Atlantic and St-Lawrence)</text>
<text x="1160" y="507.7" fill="#000" style="font-family:'Liberation Sans',sans-serif;font-size:27px;font-style:italic">W<tspan dy="7" style="font-size:20px">P</tspan></text>
<text x="1160" y="547.7" fill="#000" style="font-family:'Liberation Sans',sans-serif;font-size:27px;font-style:italic">W<tspan dy="7" style="font-size:20px">0</tspan></text>
<text x="1160" y="598" fill="#007f00" style="font-family:'Liberation Sans',sans-serif;font-size:27px;font-style:italic">W<tspan dy="7" style="font-size:20px">R</tspan></text>
<text x="1160" y="639" fill="#000" style="font-family:'Liberation Sans',sans-serif;font-size:27px;font-style:italic">W<tspan dy="7" style="font-size:20px">A</tspan></text>
<text x="191" y="715.4" fill="#000" style="font-family:'Liberation Sans',sans-serif;font-size:24.85px;font-style:italic">W<tspan dy="6.5" style="font-size:16px;stroke-width:0.4px">P</tspan></text>
<text x="225" y="715.4" style="font-family:'Liberation Sans',sans-serif;font-size:24.85px">: Equipotential surface representing MSL next to Vancouver</text>
<text x="191" y="765.4" fill="#000" style="font-family:'Liberation Sans',sans-serif;font-size:24.85px;font-style:italic">W<tspan dy="6.5" style="font-size:16px;stroke-width:0.4px">0</tspan></text>
<text x="223" y="765.4" style="font-family:'Liberation Sans',sans-serif;font-size:24.85px">: Equipotential surface representing best global MSL (geoid)</text>
<text x="191" y="815.5" fill="#007f00" style="font-family:'Liberation Sans',sans-serif;font-size:24.85px;font-style:italic">W<tspan dy="7.5" style="font-size:16px;stroke-width:0.4px">R</tspan></text>
<text x="226" y="815.5" style="font-family:'Liberation Sans',sans-serif;font-size:24.85px">: Equipotential surface representing MWL next to Rimouski (new vertical datum)</text>
<text x="191" y="865.1" fill="#000" style="font-family:'Liberation Sans',sans-serif;font-size:24.85px;font-style:italic">W<tspan dy="7.5" style="font-size:16px;stroke-width:0.4px">A</tspan></text>
<text x="224.5" y="865.1" style="font-family:'Liberation Sans',sans-serif;font-size:24.85px">: Equipotential surface representing MSL next to Halifax</text>
</svg></body></html>
